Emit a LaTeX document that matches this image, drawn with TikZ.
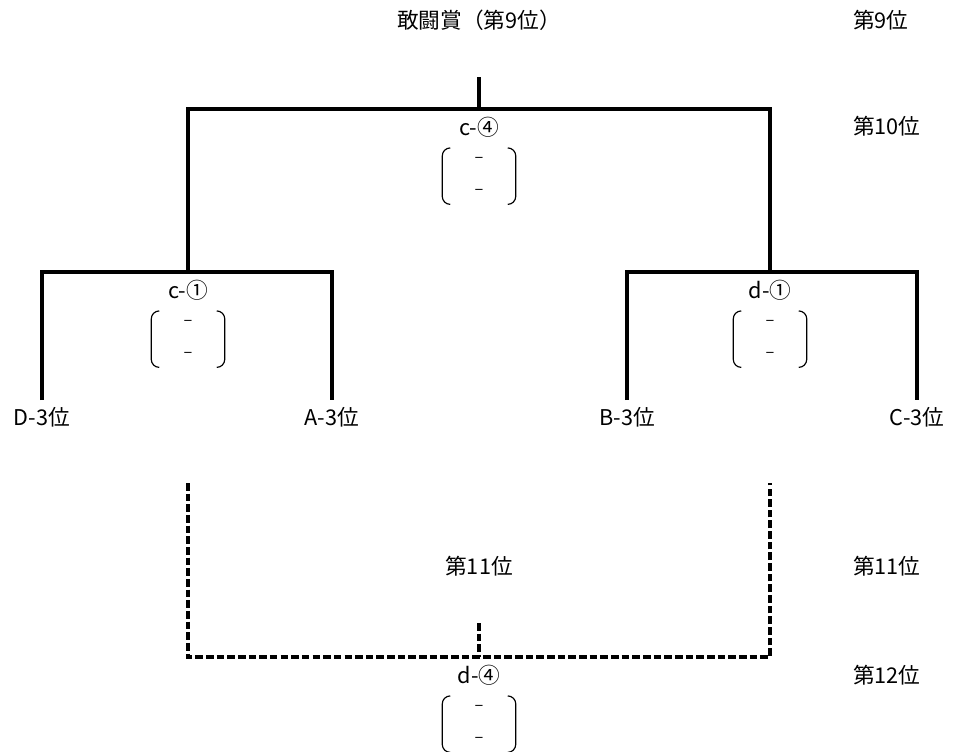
\documentclass[tikz,border=0pt]{standalone}
\usepackage{fontspec}
\setmainfont{Noto Sans CJK JP}
\usetikzlibrary{positioning}

\tikzset{
  bout/.style = {line width=2.6pt},
  repechage/.style = {line width=2.6pt, dash pattern=on 6.5pt off 2.6pt},
  team/.style = {anchor=north, inner xsep=0pt, inner ysep=0.2cm},
  score/.style = {minimum width=2.19cm, minimum height=1.68cm, inner sep=0pt, align=center,
                  font=\fontsize{14}{27}\selectfont},
  paren/.style = {line width=1pt, rounded corners=0.24cm},
  rank/.style = {anchor=west}
}

\begin{document}
\begin{tikzpicture}[x=0.03cm, y=-0.03cm, font=\fontsize{18.5}{22}\selectfont]
  \useasboundingbox (0,0) rectangle (956,751);

  % places down the right side
  \node[rank] (r9)  at (849,20)  {第9位};
  \node[rank] (r10) at (849,126) {第10位};
  \node[rank] (r11) at (849,566) {第11位};
  \node[rank] (r12) at (849,675) {第12位};

  \node (title) at (479,20) {敢闘賞（第9位）};
  \node (mid11) at (479,566) {第11位};

  % bouts
  \node (c4) at (479,127) {c-④};
  \node (c1) at (188,290) {c-①};
  \node (d1) at (770,290) {d-①};
  \node (d4) at (479,675) {d-④};
  \node[score, below=0.2cm of c4] (c4s) {–\\–};
  \node[score, below=0.2cm of c1] (c1s) {–\\–};
  \node[score, below=0.2cm of d1] (d1s) {–\\–};
  \node[score, below=0.2cm of d4] (d4s) {–\\–};
  \foreach \s in {c4s,c1s,d1s,d4s} {
    \draw[paren] ([xshift=0.24cm]\s.north west) -- (\s.north west)
      -- (\s.south west) -- ([xshift=0.24cm]\s.south west);
    \draw[paren] ([xshift=-0.24cm]\s.north east) -- (\s.north east)
      -- (\s.south east) -- ([xshift=-0.24cm]\s.south east);
  }

  % teams
  \node[team] (D3) at (42,400)  {D-3位};
  \node[team] (A3) at (332,400) {A-3位};
  \node[team] (B3) at (627,400) {B-3位};
  \node[team] (C3) at (917,400) {C-3位};

  \coordinate (final) at (479,77);
  \coordinate (sf)    at (479,109);
  \coordinate (qfl)   at (188,272);
  \coordinate (qfr)   at (770,272);
  \draw[bout] (final) -- (sf);
  \draw[bout] (qfl) |- (sf) -| (qfr);
  \draw[bout] (D3.north) |- (qfl) -| (A3.north);
  \draw[bout] (B3.north) |- (qfr) -| (C3.north);

  % losers' bout
  \coordinate (lossl) at (188,483);
  \coordinate (lossr) at (770,483);
  \coordinate (pl)    at (479,657);
  \coordinate (plup)  at (479,623);
  \draw[repechage] (lossl) |- (pl) -| (lossr);
  \draw[repechage] (plup) -- (pl);
\end{tikzpicture}
\end{document}
